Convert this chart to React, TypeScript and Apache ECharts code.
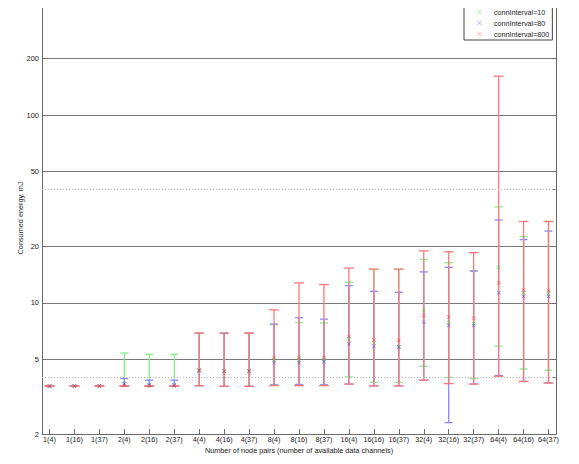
import React, { useEffect, useRef } from "react";
import * as echarts from "echarts";

const categories = [
  "1(4)", "1(16)", "1(37)", "2(4)", "2(16)", "2(37)", "4(4)", "4(16)", "4(37)",
  "8(4)", "8(16)", "8(37)", "16(4)", "16(16)", "16(37)", "32(4)", "32(16)", "32(37)",
  "64(4)", "64(16)", "64(37)",
];

const seriesNames = ["connInterval=10", "connInterval=80", "connInterval=800"];

// connInterval=10 (green)
const greenMid = [3.6, 3.6, 3.6, 3.7, 3.65, 3.65, 4.37, 4.32, 4.32, 4.95, 4.95, 4.95, 6.4, 6.1, 5.85, 9.1, 7.88, 7.73, 15.4, 11.3, 11.2];
const greenLow = [3.6, 3.6, 3.6, 3.6, 3.6, 3.6, 3.62, 3.59, 3.59, 3.67, 3.67, 3.67, 4.03, 3.77, 3.77, 4.59, 4.0, 3.95, 5.88, 4.44, 4.37];
const greenHigh = [3.6, 3.6, 3.6, 5.4, 5.31, 5.31, 6.89, 6.89, 6.89, 7.64, 7.85, 7.8, 12.86, 15.1, 15.1, 17.0, 16.35, 14.77, 32.4, 22.5, 27.1];

// connInterval=80 (blue)
const blueMid = [3.6, 3.6, 3.6, 3.7, 3.65, 3.65, 4.35, 4.32, 4.32, 4.8, 4.8, 4.85, 6.05, 5.86, 5.81, 7.88, 7.57, 7.57, 11.3, 10.8, 10.8];
const blueLow = [3.6, 3.6, 3.6, 3.6, 3.6, 3.6, 3.62, 3.59, 3.59, 3.65, 3.67, 3.65, 3.69, 3.61, 3.61, 3.87, 2.3, 3.69, 4.1, 3.81, 3.74];
const blueHigh = [3.6, 3.6, 3.6, 3.95, 3.87, 3.87, 6.89, 6.89, 6.89, 7.7, 8.32, 8.18, 12.34, 11.51, 11.38, 14.6, 15.44, 14.77, 27.6, 21.7, 24.1];

// connInterval=800 (red)
const redMid = [3.6, 3.6, 3.6, 3.62, 3.6, 3.6, 4.37, 4.32, 4.32, 5.1, 5.1, 5.1, 6.62, 6.36, 6.31, 8.56, 8.39, 8.3, 12.76, 11.7, 11.6];
const redLow = [3.6, 3.6, 3.6, 3.6, 3.6, 3.6, 3.62, 3.59, 3.59, 3.62, 3.62, 3.62, 3.69, 3.61, 3.61, 3.87, 3.71, 3.69, 4.06, 3.81, 3.74];
const redHigh = [3.6, 3.6, 3.6, 3.62, 3.6, 3.6, 6.89, 6.89, 6.89, 9.17, 12.76, 12.5, 15.3, 15.1, 15.1, 18.9, 18.7, 18.5, 161, 27.1, 27.1];

const yTicks = [2, 5, 10, 20, 50, 100, 200];
const yDotted = [4, 40];

const FONT = "Liberation Sans";
const X_PATH = "path://M0,1L1,0L5,4L9,0L10,1L6,5L10,9L9,10L5,6L1,10L0,9L4,5Z";

function errorSeries(name: string, low: number[], high: number[], color: string, capW: number) {
  return {
    type: "custom",
    name: name + " range",
    xAxisIndex: 0,
    yAxisIndex: 0,
    z: 2,
    silent: true,
    data: low.map((l, i) => [i + 1, l, high[i]]),
    encode: { x: 0, y: [1, 2] },
    renderItem: (params: any, api: any) => {
      const x = api.value(0);
      const p1 = api.coord([x, api.value(1)]);
      const p2 = api.coord([x, api.value(2)]);
      const st = { stroke: color, lineWidth: 1.3 };
      return {
        type: "group",
        children: [
          { type: "line", shape: { x1: p1[0], y1: p1[1], x2: p2[0], y2: p2[1] }, style: st },
          { type: "line", shape: { x1: p1[0] - capW / 2, y1: p1[1], x2: p1[0] + capW / 2, y2: p1[1] }, style: st },
          { type: "line", shape: { x1: p2[0] - capW / 2, y1: p2[1], x2: p2[0] + capW / 2, y2: p2[1] }, style: st },
        ],
      };
    },
  };
}

function markerSeries(name: string, mid: number[], color: string) {
  return {
    type: "scatter",
    name,
    xAxisIndex: 0,
    yAxisIndex: 0,
    z: 3,
    symbol: X_PATH,
    symbolSize: 4,
    itemStyle: { color },
    data: mid.map((v, i) => [i + 1, v]),
  };
}

export default function App() {
  const ref = useRef<HTMLDivElement>(null);
  useEffect(() => {
    if (!ref.current) return;
    const chart = echarts.init(ref.current, null, { renderer: "svg" });
    const xIdx = categories.map((_, i) => i + 1);
    const axisColor = "#6a6a6a";
    chart.setOption({
      animation: false,
      textStyle: { fontFamily: FONT },
      grid: { left: 42, right: 23, top: 2, bottom: 30 },
      legend: {
        orient: "vertical",
        left: 464,
        top: 6,
        padding: [2, 3, 2, 13],
        itemWidth: 5,
        itemHeight: 5,
        itemGap: 3,
        borderColor: "#444",
        borderWidth: 1,
        backgroundColor: "#fff",
        selectedMode: false,
        textStyle: { fontSize: 7.2, color: "#222", fontFamily: FONT, padding: [0, 0, 0, 7], lineHeight: 8 },
        data: [
          { name: seriesNames[0], icon: X_PATH, itemStyle: { color: "#8fef8f" } },
          { name: seriesNames[1], icon: X_PATH, itemStyle: { color: "#9f9fff" } },
          { name: seriesNames[2], icon: X_PATH, itemStyle: { color: "#ff9f9f" } },
        ],
      },
      xAxis: [
        {
          type: "value",
          min: 0.7,
          max: 21.3,
          position: "bottom",
          name: "Number of node pairs (number of available data channels)",
          nameLocation: "middle",
          nameGap: 13,
          nameMoveOverlap: false,
          nameTextStyle: { fontSize: 7.3, color: "#222", fontFamily: FONT },
          axisLine: { show: true, lineStyle: { color: axisColor, width: 1 } },
          axisTick: { show: true, inside: true, length: 5, customValues: xIdx, lineStyle: { color: axisColor } },
          axisLabel: {
            show: true,
            customValues: xIdx,
            fontSize: 7.2,
            color: "#222",
            margin: 2,
            formatter: (v: number) => categories[Math.round(v) - 1] ?? "",
          },
          splitLine: { show: false },
        },
        {
          type: "value",
          min: 0.7,
          max: 21.3,
          position: "top",
          axisLine: { show: true, lineStyle: { color: axisColor, width: 1 } },
          axisTick: { show: true, inside: true, length: 5, customValues: xIdx, lineStyle: { color: axisColor } },
          axisLabel: { show: false },
          splitLine: { show: false },
        },
      ],
      yAxis: [
        {
          type: "log",
          logBase: 10,
          min: 2,
          max: 400,
          position: "left",
          name: "Consumed energy, mJ",
          nameLocation: "middle",
          nameGap: 18,
          nameMoveOverlap: false,
          nameRotate: 90,
          nameTextStyle: { fontSize: 7.3, color: "#222", fontFamily: FONT },
          axisLine: { show: true, lineStyle: { color: axisColor, width: 1 } },
          axisTick: { show: true, inside: true, length: 4, customValues: yTicks, lineStyle: { color: axisColor } },
          axisLabel: {
            show: true,
            customValues: yTicks,
            fontSize: 7.5,
            color: "#222",
            margin: 3,
            formatter: (v: number) => String(Math.round(v)),
          },
          splitLine: { show: true, lineStyle: { color: "#7a7a7a", width: 1 } },
        },
        {
          type: "log",
          logBase: 10,
          min: 2,
          max: 400,
          position: "right",
          axisLine: { show: true, lineStyle: { color: axisColor, width: 1 } },
          axisTick: { show: true, inside: true, length: 4, customValues: [2, 4, 5, 10, 20, 40, 50, 100, 200], lineStyle: { color: axisColor } },
          axisLabel: { show: false },
          splitLine: { show: false },
        },
      ],
      series: [
        {
          type: "line",
          name: "grid-dotted",
          data: [],
          silent: true,
          markLine: {
            silent: true,
            symbol: "none",
            label: { show: false },
            lineStyle: { color: "#b8b8b8", type: [1, 2], width: 1 },
            data: yDotted.map((v) => ({ yAxis: v })),
          },
        },
        errorSeries(seriesNames[0], greenLow, greenHigh, "rgb(130,240,130)", 8),
        errorSeries(seriesNames[1], blueLow, blueHigh, "rgb(135,135,255)", 8),
        errorSeries(seriesNames[2], redLow, redHigh, "rgb(255,120,120)", 10),
        markerSeries(seriesNames[0], greenMid, "#3fcf3f"),
        markerSeries(seriesNames[1], blueMid, "#5555ee"),
        markerSeries(seriesNames[2], redMid, "#ee4444"),
      ],
    });
    return () => chart.dispose();
  }, []);
  return <div ref={ref} style={{ width: 579, height: 464, margin: -8 }} />;
}
